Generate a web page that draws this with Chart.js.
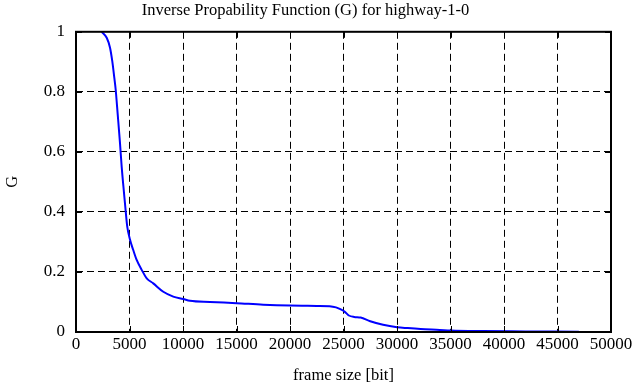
<!DOCTYPE html>
<html>
<head>
<meta charset="utf-8">
<script src="https://cdn.jsdelivr.net/npm/chart.js@4"></script>
<style>
  html, body { margin: 0; padding: 0; background: #fff; }
  #wrap { width: 639px; height: 387px; }
</style>
</head>
<body>
<div id="wrap"><canvas id="chart"></canvas></div>
<script>
// frame size [bit] and matching G values
const frameSize = [2400, 2870, 3180, 3390, 3580, 3710, 3900, 4110, 4270, 4490,
    4650, 4790, 5050, 5350, 5670, 6140, 6610, 7220, 8160, 9090,
    10030, 10650, 12520, 15000, 17500, 20000, 22500, 23700, 24300, 24700,
    25100, 25500, 26000, 26600, 27500, 28700, 30000, 31000, 32200, 34000,
    35000, 38000, 42000, 47000];
const gValue = [1.0, 0.98, 0.947, 0.902, 0.847, 0.807, 0.724, 0.63, 0.55, 0.462,
    0.4, 0.351, 0.307, 0.273, 0.24, 0.207, 0.179, 0.162, 0.134, 0.118,
    0.11, 0.104, 0.1, 0.096, 0.091, 0.088, 0.087, 0.086, 0.082, 0.076,
    0.068, 0.055, 0.05, 0.048, 0.036, 0.024, 0.016, 0.013, 0.01, 0.007,
    0.005, 0.003, 0.002, 0.001];

const xTicks = [0, 5000, 10000, 15000, 20000, 25000, 30000, 35000, 40000, 45000, 50000];
const yTicks = [0, 0.2, 0.4, 0.6, 0.8, 1];

const points = frameSize.map((x, i) => ({ x: x, y: gValue[i] }));

// gnuplot-like frame: solid box plus short inward tick marks on every side
const framePlugin = {
    id: 'frame',
    afterDraw(chart) {
        const ctx = chart.ctx;
        const a = chart.chartArea;
        const xs = chart.scales.x, ys = chart.scales.y;
        ctx.save();
        ctx.strokeStyle = '#000';
        ctx.lineWidth = 1;
        ctx.setLineDash([]);
        xTicks.forEach(v => {
            const px = Math.round(xs.getPixelForValue(v)) + 0.5;
            ctx.beginPath();
            ctx.moveTo(px, a.bottom); ctx.lineTo(px, a.bottom - 6);
            ctx.moveTo(px, a.top); ctx.lineTo(px, a.top + 6);
            ctx.stroke();
        });
        yTicks.forEach(v => {
            const py = Math.round(ys.getPixelForValue(v)) + 0.5;
            ctx.beginPath();
            ctx.moveTo(a.left, py); ctx.lineTo(a.left + 6, py);
            ctx.moveTo(a.right, py); ctx.lineTo(a.right - 6, py);
            ctx.stroke();
        });
        ctx.lineWidth = 2;
        ctx.strokeRect(a.left, a.top, a.right - a.left, a.bottom - a.top);
        ctx.restore();
    }
};

Chart.defaults.font.family = "'Liberation Serif', 'DejaVu Serif', serif";
Chart.defaults.color = '#000';

new Chart(document.getElementById('chart'), {
    type: 'line',
    data: {
        datasets: [{
            data: points,
            borderColor: '#0000ff',
            borderWidth: 2,
            pointRadius: 0,
            cubicInterpolationMode: 'monotone',
            fill: false
        }]
    },
    options: {
        responsive: true,
        maintainAspectRatio: false,
        animation: false,
        layout: { padding: { left: 0, right: 28, top: 0, bottom: 0 } },
        plugins: {
            legend: { display: false },
            tooltip: { enabled: false },
            title: {
                display: true,
                text: 'Inverse Propability Function (G) for highway-1-0',
                font: { size: 16.5, weight: 'normal' },
                padding: { top: 1, bottom: 11 }
            }
        },
        scales: {
            x: {
                type: 'linear',
                min: 0,
                max: 50000,
                afterFit: scale => { scale.height = 55; },
                afterBuildTicks: scale => { scale.ticks = xTicks.map(v => ({ value: v })); },
                ticks: {
                    font: { size: 17 },
                    padding: 2,
                    maxRotation: 0,
                    autoSkip: false,
                    callback: v => String(v)
                },
                grid: {
                    color: '#000',
                    lineWidth: 1,
                    drawTicks: false
                },
                border: { display: false, dash: [7, 4] },
                title: {
                    display: true,
                    text: 'frame size [bit]',
                    font: { size: 16.5 },
                    padding: { top: 0, bottom: 1 }
                }
            },
            y: {
                min: 0,
                max: 1,
                afterFit: scale => { scale.width = 76; },
                afterBuildTicks: scale => { scale.ticks = yTicks.map(v => ({ value: v })); },
                ticks: {
                    font: { size: 17 },
                    padding: 11,
                    callback: v => String(v)
                },
                grid: {
                    color: '#000',
                    lineWidth: 1,
                    drawTicks: false
                },
                border: { display: false, dash: [7, 4] },
                title: {
                    display: true,
                    text: 'G',
                    font: { size: 16.5 },
                    padding: { top: 3, bottom: 0 }
                }
            }
        }
    },
    plugins: [framePlugin]
});
</script>
</body>
</html>
